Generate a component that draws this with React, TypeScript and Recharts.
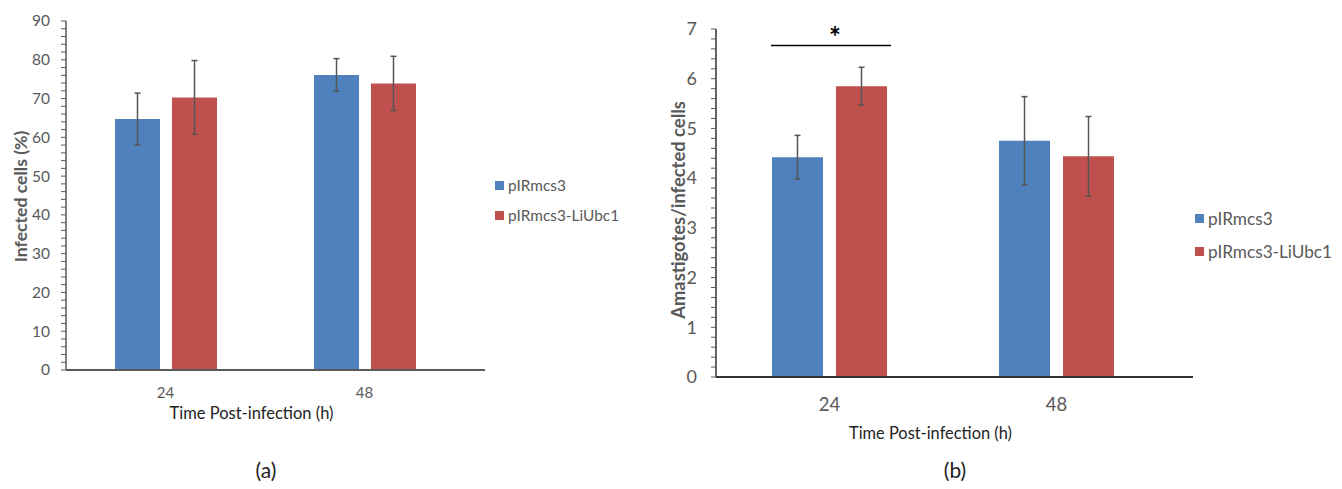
import { BarChart, Bar, XAxis, YAxis, ErrorBar, LabelList, Label } from 'recharts'

const CATEGORIES = ['24', '48']
const SERIES = ['pIRmcs3', 'pIRmcs3-LiUbc1']
const COLORS = ['#4F81BD', '#C0504D']

// (a) infected cells (%)
const INFECTED_CTRL = [64.7, 76.1]
const INFECTED_CTRL_ERR = [6.7, 4.2]
const INFECTED_UBC1 = [70.3, 73.9]
const INFECTED_UBC1_ERR = [9.5, 7.0]
const INFECTED_TICKS = [0, 10, 20, 30, 40, 50, 60, 70, 80, 90]

// (b) amastigotes / infected cell
const AMA_CTRL = [4.42, 4.75]
const AMA_CTRL_ERR = [0.44, 0.89]
const AMA_UBC1 = [5.85, 4.44]
const AMA_UBC1_ERR = [0.38, 0.8]
const AMA_TICKS = [0, 1, 2, 3, 4, 5, 6, 7]
const SIG_LEVEL = 6.67

const FONT = 'Lato, "Open Sans", sans-serif'
const GREY = '#595959'

const minorTicks = (max: number, step: number) =>
  Array.from({ length: Math.round(max / step) + 1 }, (_, i) => +(i * step).toFixed(2))

const infectedData = CATEGORIES.map((c, i) => ({
  name: c,
  ctrl: INFECTED_CTRL[i],
  ctrlErr: INFECTED_CTRL_ERR[i],
  ubc1: INFECTED_UBC1[i],
  ubc1Err: INFECTED_UBC1_ERR[i],
}))

const amaData = CATEGORIES.map((c, i) => ({
  name: c,
  ctrl: AMA_CTRL[i],
  ctrlErr: AMA_CTRL_ERR[i],
  ubc1: AMA_UBC1[i],
  ubc1Err: AMA_UBC1_ERR[i],
}))

const makeYTick = (majors: number[], fontSize: number, gap: number) => (props: any) => {
  const { x, y, payload } = props
  const isMajor = majors.some(m => Math.abs(m - payload.value) < 1e-6)
  return (
    <g>
      <line x1={x - 5} x2={x} y1={y} y2={y} stroke={GREY} strokeWidth={1} />
      {isMajor && (
        <text x={x - gap} y={y} dy="0.35em" textAnchor="end" fill={GREY} fontSize={fontSize} fontFamily={FONT}>
          {payload.value}
        </text>
      )}
    </g>
  )
}

const xTitle = (dx: number, dy: number, size: number) => (props: any) => {
  const vb = props.viewBox
  return (
    <text x={vb.x + vb.width / 2 + dx} y={vb.y + dy} textAnchor="middle" fill="#222" fontSize={size} fontFamily={FONT}>
      Time Post-infection (h)
    </text>
  )
}

const yTitle = (text: string, cx: number, size: number, shift = 0) => (props: any) => {
  const vb = props.viewBox
  const cy = vb.y + vb.height / 2 + shift
  return (
    <text x={cx} y={cy} transform={`rotate(-90 ${cx} ${cy})`} textAnchor="middle" dominantBaseline="central"
      fill={GREY} fontSize={size} fontWeight="bold" fontFamily={FONT}>
      {text}
    </text>
  )
}

const AMA_GAP = 13
const renderSignificance = (props: any) => {
  const { x, y, width, height, index, value } = props
  if (index !== 0) return null
  const base = y + height
  const lineY = base - (SIG_LEVEL * height) / value
  return (
    <g>
      <line x1={x - width - AMA_GAP - 1} x2={x + width + 4} y1={lineY} y2={lineY} stroke="#000" strokeWidth={1.5} />
      <text x={x - 1} y={lineY + 2} textAnchor="middle" fontSize={28} fontWeight="bold" fill="#000" fontFamily={FONT}>
        *
      </text>
    </g>
  )
}

const LegendBox = ({ left, top, rowGap, size }: { left: number; top: number; rowGap: number; size: number }) => (
  <div style={{ position: 'absolute', left, top, fontFamily: FONT, fontSize: size, color: GREY }}>
    {SERIES.map((s, i) => (
      <div key={s} style={{ display: 'flex', alignItems: 'center', height: rowGap, gap: 4 }}>
        <span style={{ width: 9, height: 9, background: COLORS[i], display: 'inline-block' }} />
        {s}
      </div>
    ))}
  </div>
)

export default function App() {
  return (
    <div style={{ position: 'absolute', left: 0, top: 0, width: 1342, height: 489, background: '#fff', fontFamily: FONT }}>
      {/* (a) */}
      <div style={{ position: 'absolute', left: 0, top: 0 }}>
        <BarChart width={640} height={430} data={infectedData} margin={{ top: 21, right: 155, left: 0, bottom: 16 }}
          barSize={45} barGap={12}>
          <XAxis dataKey="name" height={44} tickLine={false} tickSize={0} tickMargin={17}
            padding={{ left: 0, right: 21 }}
            axisLine={{ stroke: '#5a5a5a', strokeWidth: 2 }}
            tick={{ fill: GREY, fontSize: 15, fontFamily: FONT }}>
            <Label content={xTitle(-24, 49, 16.5)} />
          </XAxis>
          <YAxis width={66} domain={[0, 90]} ticks={minorTicks(90, 2)} interval={0} tickLine={false}
            tickSize={0} tickMargin={0} axisLine={{ stroke: '#5a5a5a', strokeWidth: 1.5 }}
            tick={makeYTick(INFECTED_TICKS, 15.5, 16)}>
            <Label content={yTitle('Infected cells (%)', 20, 17.6, 1)} />
          </YAxis>
          <Bar dataKey="ctrl" name={SERIES[0]} fill={COLORS[0]} isAnimationActive={false}>
            <ErrorBar dataKey="ctrlErr" width={3} stroke="#555" strokeWidth={1.5} />
          </Bar>
          <Bar dataKey="ubc1" name={SERIES[1]} fill={COLORS[1]} isAnimationActive={false}>
            <ErrorBar dataKey="ubc1Err" width={3} stroke="#555" strokeWidth={1.5} />
          </Bar>
        </BarChart>
      </div>
      <LegendBox left={495} top={170} rowGap={30} size={15.4} />

      {/* (b) */}
      <div style={{ position: 'absolute', left: 650, top: 0 }}>
        <BarChart width={692} height={489} data={amaData} margin={{ top: 29, right: 149, left: 0, bottom: 42 }}
          barSize={51} barGap={AMA_GAP}>
          <XAxis dataKey="name" height={70} tickLine={false} tickSize={0} tickMargin={21}
            padding={{ left: 0, right: 23 }}
            axisLine={{ stroke: '#333', strokeWidth: 2 }}
            tick={{ fill: GREY, fontSize: 18.5, fontFamily: FONT }}>
            <Label content={xTitle(-24, 62, 16.4)} />
          </XAxis>
          <YAxis width={66} domain={[0, 7]} ticks={minorTicks(7, 0.2)} interval={0} tickLine={false}
            tickSize={0} tickMargin={0} axisLine={{ stroke: '#333', strokeWidth: 1.5 }}
            tick={makeYTick(AMA_TICKS, 18, 19)}>
            <Label content={yTitle('Amastigotes/infected cells', 28, 18.4, 7)} />
          </YAxis>
          <Bar dataKey="ctrl" name={SERIES[0]} fill={COLORS[0]} isAnimationActive={false}>
            <ErrorBar dataKey="ctrlErr" width={3} stroke="#555" strokeWidth={1.5} />
          </Bar>
          <Bar dataKey="ubc1" name={SERIES[1]} fill={COLORS[1]} isAnimationActive={false}>
            <ErrorBar dataKey="ubc1Err" width={3} stroke="#555" strokeWidth={1.5} />
            <LabelList dataKey="ubc1" content={renderSignificance} />
          </Bar>
        </BarChart>
      </div>
      <LegendBox left={1195} top={202} rowGap={33} size={17.2} />

      <div style={{ position: 'absolute', left: 246, top: 457, width: 40, textAlign: 'center', fontSize: 21, color: '#222' }}>(a)</div>
      <div style={{ position: 'absolute', left: 935, top: 457, width: 40, textAlign: 'center', fontSize: 21, color: '#222' }}>(b)</div>
    </div>
  )
}
